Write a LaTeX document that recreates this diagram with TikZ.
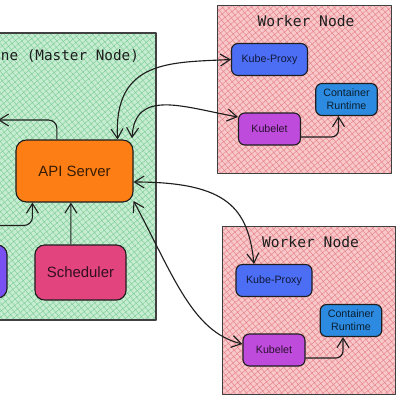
\documentclass[tikz,border=0pt]{standalone}
\usepackage{fontspec}
\setmainfont{Liberation Sans}
\setmonofont{DejaVu Sans Mono}
\usetikzlibrary{arrows.meta,positioning,calc,patterns.meta}
\definecolor{ctlbg}{HTML}{C6EDD2}
\definecolor{ctlhatch}{HTML}{84CE9A}
\definecolor{wrkbg}{HTML}{F8C8CA}
\definecolor{wrkhatch}{HTML}{E6868C}
\definecolor{apiC}{HTML}{FD7E14}
\definecolor{schC}{HTML}{E2457E}
\definecolor{ctrlC}{HTML}{7950F2}
\definecolor{kpC}{HTML}{4C6EF5}
\definecolor{crC}{HTML}{2C8BE0}
\definecolor{klC}{HTML}{BE4BDB}
\definecolor{ink}{HTML}{1E1E1E}
\tikzset{
  zone/.style={draw=ink!85,thick,inner sep=0pt,preaction={fill=#1bg},
    pattern={Hatch[angle=40,distance=3.2pt,line width=.35pt]},pattern color=#1hatch},
  ttl/.style={font=\ttfamily\fontsize{10.4}{12}\selectfont,text=ink,inner sep=0pt},
  comp/.style 2 args={draw=ink,thick,rounded corners=#2,fill=#1,align=center,inner sep=0pt,text=#1!22!black},
  big/.style={font=\fontsize{10.6}{12}\selectfont},
  sml/.style={font=\fontsize{7.6}{9}\selectfont},
  arr/.style={line width=.8pt,draw=ink,-{Straight Barb[length=2.4mm,width=3mm]}},
  biarr/.style={line width=.8pt,draw=ink,{Straight Barb[length=2.4mm,width=3mm]}-{Straight Barb[length=2.4mm,width=3mm]}},
}
\begin{document}
\begin{tikzpicture}[x=0.25mm,y=-0.25mm,line join=round]
  \clip (0,0) rectangle (400,400);
  % control plane
  \node[zone=ctl,minimum width=44mm,minimum height=71.75mm] (master) at (68,176.5) {};
  \node[ttl,anchor=west,font=\ttfamily\fontsize{10.2}{12}\selectfont] (mtitle) at (0.6,56) {ne (Master Node)};
  \node[comp={apiC}{2.6mm},big,minimum width=29.25mm,minimum height=15.5mm] (api) at (74.5,171) {API Server};
  \node[comp={schC}{2.4mm},big,minimum width=22.75mm,minimum height=13.75mm] (sched) at (80.5,272.5) {Scheduler};
  \node[comp={ctrlC}{2.4mm},minimum width=16.75mm,minimum height=13.25mm] (ctrl) at (-26.5,271.5) {};
  \coordinate (etcd) at (-2,120);
  \draw[arr,rounded corners=6] ([xshift=-4.4mm]api.north) |- (etcd);
  \draw[arr,rounded corners=6] (ctrl.north) -- ++(0,-19) -| ([xshift=4.25mm]api.south west);
  \draw[arr] ([xshift=-2.4mm]sched.north) -- ([xshift=-0.9mm]api.south);
  % worker nodes
  \foreach \i/\dx/\dy in {1/0/0,2/4.5/221} {
    \begin{scope}[shift={(\dx,\dy)}]
      \node[zone=wrk,minimum width=43.4mm,minimum height=42.2mm] (w\i) at (304.5,89.5) {};
      \node[ttl] (wt\i) at (306,21) {Worker Node};
      \node[comp={kpC}{1.6mm},sml,minimum width=19mm,minimum height=8mm] (kp\i) at (269.5,59.5) {Kube-Proxy};
      \node[comp={crC}{1.6mm},sml,minimum width=15.4mm,minimum height=8mm] (cr\i) at (346.5,99.5) {Container\\Runtime};
      \node[comp={klC}{1.6mm},sml,minimum width=15.5mm,minimum height=8mm] (kl\i) at (269.5,129) {Kubelet};
      \draw[arr,rounded corners=5] ([yshift=-2mm]kl\i.east) -| ([xshift=-2mm]cr\i.south);
    \end{scope}
  }
  % api links
  \draw[biarr] ([xshift=-4mm]api.north east) .. controls +(-4,-80) and +(-60,3) .. (kp1.west);
  \draw[biarr] ([xshift=-0.4mm,yshift=0.3mm]api.north east) .. controls +(3,-50) and +(-55,-10) .. ([yshift=3mm]kl1.west);
  \draw[biarr] ([yshift=-2.75mm]api.east) .. controls +(95,0) and +(-6,-55) .. ([xshift=-5mm]kp2.north);
  \draw[biarr] ([yshift=0.4mm]api.south east) .. controls +(40,75) and +(-50,-12) .. ([yshift=1.5mm]kl2.west);
\end{tikzpicture}
\end{document}
